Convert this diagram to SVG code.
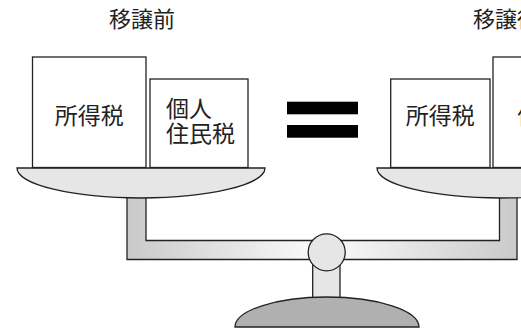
<svg xmlns="http://www.w3.org/2000/svg" width="521" height="328" viewBox="0 0 521 328">
<style>
.ln{stroke:#222;stroke-width:1.3;}
.box{fill:#fff;stroke:#222;stroke-width:1.3;}
.lt{fill:#e6e6e6;}
.t{font-family:"Noto Sans CJK JP","Noto Sans",sans-serif;fill:#222;}
.title{font-size:22px;}
.lbl{font-size:23px;}
</style>
<defs>
<linearGradient id="beamGrad" gradientUnits="userSpaceOnUse" x1="127" y1="0" x2="517" y2="0">
<stop offset="0" stop-color="#cacaca"/>
<stop offset="0.5" stop-color="#fbfbfb"/>
<stop offset="1" stop-color="#cacaca"/>
</linearGradient>
</defs>
<rect width="521" height="328" fill="#fff"/>
<g id="scale">
<g id="beam">
<path class="ln" fill="url(#beamGrad)" d="M127,196 V259.5 H517 V196 H499.5 V240.5 H146 V196 Z"/>
</g>
<g id="stand">
<rect class="ln lt" x="312.7" y="262" width="27.3" height="36"/>
<path class="ln" fill="#b0b0b0" d="M235,327 A92,30 0 0 1 419,327 Z"/>
<circle class="ln lt" cx="326.7" cy="252.3" r="18.5"/>
</g>
<g id="pan-left">
<path class="ln lt" d="M17,168 H265 A124,30 0 0 1 17,168 Z"/>
</g>
<g id="pan-right">
<path class="ln lt" d="M377,168 H625 A124,30 0 0 1 377,168 Z"/>
</g>
</g>
<g id="title-before"><text class="t title" x="109" y="27">移譲前</text></g>
<g id="title-after"><text class="t title" x="473" y="27">移譲後</text></g>
<g id="box-income-before">
<rect class="box" x="32.5" y="57" width="113.5" height="110.5"/>
<text class="t lbl" x="89.3" y="124" text-anchor="middle">所得税</text>
</g>
<g id="box-resident-before">
<rect class="box" x="150" y="79" width="98" height="88.5"/>
<text class="t lbl" x="166" y="117">個人</text>
<text class="t lbl" x="166" y="142.3">住民税</text>
</g>
<g id="equals">
<rect x="287" y="101.7" width="71" height="12.6" fill="#000"/>
<rect x="287" y="125" width="71" height="12.7" fill="#000"/>
</g>
<g id="box-income-after">
<rect class="box" x="390.7" y="79" width="99.3" height="88.5"/>
<text class="t lbl" x="440.3" y="124" text-anchor="middle">所得税</text>
</g>
<g id="box-resident-after">
<rect class="box" x="493" y="57" width="150" height="110.5"/>
<text class="t lbl" x="517.5" y="124">個人住民税</text>
</g>
<g id="connectors"></g>
</svg>
